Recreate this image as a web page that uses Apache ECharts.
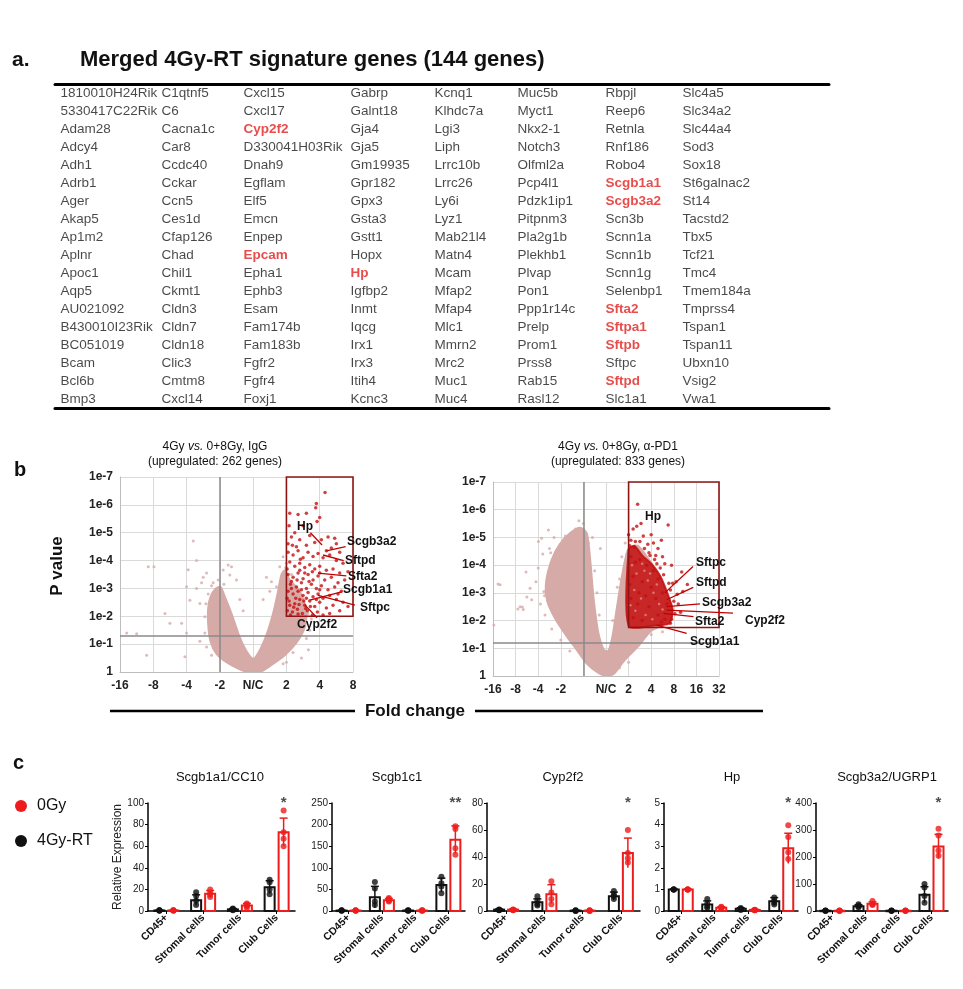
<!DOCTYPE html>
<html><head><meta charset="utf-8">
<script src="https://cdn.jsdelivr.net/npm/echarts@6/dist/echarts.min.js"></script>
<style>html,body{margin:0;padding:0;background:#fff}#c{width:963px;height:989px}</style>
</head><body><div id="c"></div>
<script>
// ================= DATA =================
// (a) gene table, one array per column
const geneCol1 = ['1810010H24Rik','5330417C22Rik','Adam28','Adcy4','Adh1','Adrb1','Ager','Akap5','Ap1m2','Aplnr','Apoc1','Aqp5','AU021092','B430010I23Rik','BC051019','Bcam','Bcl6b','Bmp3'];
const geneCol2 = ['C1qtnf5','C6','Cacna1c','Car8','Ccdc40','Cckar','Ccn5','Ces1d','Cfap126','Chad','Chil1','Ckmt1','Cldn3','Cldn7','Cldn18','Clic3','Cmtm8','Cxcl14'];
const geneCol3 = ['Cxcl15','Cxcl17','Cyp2f2','D330041H03Rik','Dnah9','Egflam','Elf5','Emcn','Enpep','Epcam','Epha1','Ephb3','Esam','Fam174b','Fam183b','Fgfr2','Fgfr4','Foxj1'];
const geneCol4 = ['Gabrp','Galnt18','Gja4','Gja5','Gm19935','Gpr182','Gpx3','Gsta3','Gstt1','Hopx','Hp','Igfbp2','Inmt','Iqcg','Irx1','Irx3','Itih4','Kcnc3'];
const geneCol5 = ['Kcnq1','Klhdc7a','Lgi3','Liph','Lrrc10b','Lrrc26','Ly6i','Lyz1','Mab21l4','Matn4','Mcam','Mfap2','Mfap4','Mlc1','Mmrn2','Mrc2','Muc1','Muc4'];
const geneCol6 = ['Muc5b','Myct1','Nkx2-1','Notch3','Olfml2a','Pcp4l1','Pdzk1ip1','Pitpnm3','Pla2g1b','Plekhb1','Plvap','Pon1','Ppp1r14c','Prelp','Prom1','Prss8','Rab15','Rasl12'];
const geneCol7 = ['Rbpjl','Reep6','Retnla','Rnf186','Robo4','Scgb1a1','Scgb3a2','Scn3b','Scnn1a','Scnn1b','Scnn1g','Selenbp1','Sfta2','Sftpa1','Sftpb','Sftpc','Sftpd','Slc1a1'];
const geneCol8 = ['Slc4a5','Slc34a2','Slc44a4','Sod3','Sox18','St6galnac2','St14','Tacstd2','Tbx5','Tcf21','Tmc4','Tmem184a','Tmprss4','Tspan1','Tspan11','Ubxn10','Vsig2','Vwa1'];
const highlightGenes = ['Cyp2f2','Epcam','Hp','Scgb1a1','Scgb3a2','Sfta2','Sftpa1','Sftpb','Sftpd'];

// (b) volcano plots: x = signed log2 fold change, y = -log10(p)
const volXTicksLeft = ['-16','-8','-4','-2','N/C','2','4','8'];            // x = -4 .. 3
const volXTicksRight = ['-16','-8','-4','-2','','N/C','2','4','8','16','32']; // x = -5 .. 5
const volYTicks = ['1','1e-1','1e-2','1e-3','1e-4','1e-5','1e-6','1e-7'];  // y = 0 .. 7
const volLeftTitle = ['4Gy ', 'vs.', ' 0+8Gy, IgG', '(upregulated: 262 genes)'];
const volRightTitle = ['4Gy ', 'vs.', ' 0+8Gy, \u03b1-PD1', '(upregulated: 833 genes)'];

const leftCloud = [[-0.15,0],[-0.45,0.12],[-0.8,0.35],[-1.1,0.65],[-1.28,1.1],[-1.35,1.7],[-1.35,2.3],[-1.28,2.7],[-1.12,3.0],[-0.98,3.05],[-0.85,2.7],[-0.65,2.1],[-0.45,1.4],[-0.25,0.85],[-0.05,0.5],[0.05,0.5],[0.25,0.9],[0.45,1.5],[0.62,2.2],[0.75,2.9],[0.85,3.5],[0.95,3.65],[1.1,3.3],[1.4,2.9],[1.6,2.2],[1.55,1.6],[1.3,1.05],[0.95,0.6],[0.55,0.25],[0.25,0.03]];
const leftGrey = [[-3.15,3.78],[-2.98,3.78],[-2.65,2.1],[-3.2,0.6],[-3.5,1.37],[-3.8,1.4],[-1.8,4.7],[-1.7,4.0],[-1.95,3.67],[-2.0,3.06],[-1.9,2.58],[-2.15,1.75],[-2.5,1.75],[-2.0,1.4],[-2.05,0.55],[-1.4,3.55],[-1.5,3.4],[-1.55,3.2],[-1.35,2.8],[-0.75,3.84],[-0.65,3.78],[-0.7,3.48],[-0.5,3.3],[-0.9,3.66],[-1.3,2.16],[-1.6,2.46],[-1.45,1.98],[1.66,0.8],[1.31,1.14],[0.9,4.14],[0.8,3.78],[1.0,3.9],[0.55,3.24],[0.4,3.4],[0.7,3.06],[-1.7,3.0],[-1.45,1.4],[-1.6,1.1],[-1.25,0.6],[0.9,0.3],[1.2,0.7],[1.7,1.5],[1.75,1.9],[1.6,1.2],[-0.4,2.6],[-0.3,2.2],[0.3,2.6],[0.5,2.9],[-1.42,2.45],[-1.2,3.2],[1.45,0.5],[1.0,0.35],[-1.05,3.3],[-1.25,3.1],[-0.88,3.15],[0.98,3.75],[1.15,3.5],[-1.4,0.9],[1.45,1.75],[1.65,2.1]];
const leftRed = [[2.16,6.44],[1.9,6.05],[1.88,5.9],[1.6,5.7],[1.35,5.65],[1.1,5.7],[1.08,5.25],[1.5,5.25],[1.92,5.4],[1.25,5.0],[1.7,4.9],[2.05,4.75],[2.25,4.85],[2.45,4.8],[2.5,4.6],[1.4,4.75],[1.05,4.6],[1.85,4.65],[2.35,4.45],[2.6,4.3],[1.15,4.85],[2.0,5.55],
 [1.05,4.3],[1.2,4.2],[1.35,4.35],[1.5,4.1],[1.65,4.3],[1.8,4.15],[1.95,4.25],[2.1,4.1],[2.3,4.2],[2.5,4.0],[2.7,3.9],[1.1,3.95],[1.25,3.8],[1.4,3.9],[1.55,3.75],[1.7,3.85],[1.85,3.7],[2.0,3.8],[2.2,3.65],[2.4,3.7],[2.6,3.55],[2.85,3.6],[1.05,3.5],[1.2,3.4],[1.35,3.55],[1.5,3.35],[1.65,3.5],[1.8,3.3],[1.95,3.45],[2.15,3.3],[2.35,3.4],[2.55,3.2],[2.75,3.3],[1.12,3.15],[1.3,3.05],[1.45,3.2],[1.6,3.0],[1.75,3.15],[1.9,3.0],[2.05,3.1],[2.25,2.95],[2.45,3.05],[2.65,2.9],[1.02,3.7],[1.6,4.55],[1.3,4.5],[2.2,4.35],[2.0,3.55],[1.4,3.65],[1.78,3.6],
 [1.05,2.9],[1.2,2.8],[1.35,2.9],[1.5,2.75],[1.65,2.85],[1.8,2.7],[1.95,2.8],[2.1,2.65],[2.3,2.75],[2.5,2.6],[2.7,2.5],[1.08,2.55],[1.25,2.45],[1.4,2.6],[1.55,2.4],[1.7,2.55],[1.85,2.35],[2.0,2.5],[2.2,2.3],[2.4,2.4],[2.6,2.2],[1.03,2.2],[1.18,2.15],[1.33,2.25],[1.48,2.1],[1.63,2.2],[1.78,2.05],[1.93,2.15],[2.1,2.05],[2.3,2.1],[1.1,2.4],[1.45,2.95],[1.9,2.6],[2.85,2.35],[1.6,2.65],[1.28,2.65],[1.15,3.25],[2.55,2.8],[2.0,2.95],
 [1.12,2.05],[1.22,2.32],[1.38,2.42],[1.52,2.55],[1.02,2.65],[1.15,3.0],[1.32,3.3],[1.55,3.55],[1.68,3.25],[1.42,4.05],[1.18,4.55],[1.72,2.35],[1.35,2.08],[1.58,2.28]];
const leftBox = [1, 2, 3, 7];       // x1, y1, x2, y2
const leftRefX = -1, leftRefY = 1.3;
const leftGeneLabels = [
  {gene:'Hp', at:[1.56,5.2], align:'center', from:[1.72,5.0], to:[2.07,4.56]},
  {gene:'Scgb3a2', at:[2.82,4.67], align:'left', from:[2.78,4.5], to:[2.2,4.35]},
  {gene:'Sftpd', at:[2.76,3.98], align:'left', from:[2.72,4.0], to:[2.1,4.2]},
  {gene:'Sfta2', at:[2.85,3.41], align:'left', from:[2.8,3.45], to:[1.95,3.55]},
  {gene:'Scgb1a1', at:[2.7,2.94], align:'left', from:[2.66,2.88], to:[1.7,2.58]},
  {gene:'Sftpc', at:[3.21,2.3], align:'left', from:[3.06,2.4], to:[1.95,2.75]},
  {gene:'Cyp2f2', at:[1.92,1.69], align:'center', from:[1.92,1.95], to:[1.56,2.4]}
];

const rightCloud = [[0.0,0],[-0.4,0.15],[-0.85,0.45],[-1.3,0.95],[-1.75,1.45],[-2.2,2.0],[-2.6,2.7],[-2.65,3.4],[-2.4,4.2],[-2.05,4.75],[-1.6,5.15],[-1.15,5.35],[-0.85,5.15],[-0.7,4.2],[-0.55,2.8],[-0.35,1.6],[-0.1,0.95],[0.1,0.9],[0.28,1.4],[0.47,2.4],[0.75,3.8],[1.0,4.6],[1.4,4.7],[1.9,4.2],[2.4,3.6],[2.8,2.8],[2.9,2.1],[2.4,1.8],[1.95,1.6],[1.4,1.05],[0.8,0.55],[0.35,0.08]];
const rightGrey = [[-4.78,3.32],[-3.54,3.75],[-3.9,2.42],[-3.7,2.49],[-3.5,2.85],[-4.96,1.84],[-4.69,3.29],[-3.8,2.5],[-3.36,3.17],[-3.29,2.75],[-3.66,2.4],[-2.99,4.85],[-2.85,4.97],[-2.55,5.27],[-1.89,4.31],[-1.37,4.91],[-1.2,5.6],[-1.0,5.5],[-2.3,5.0],[-2.8,4.4],[-3.0,3.9],[-3.1,3.4],[-2.9,2.6],[-2.7,2.2],[-2.4,1.7],[-2.0,1.3],[-1.6,0.9],[-0.5,3.8],[-0.4,3.0],[-0.3,2.2],[0.3,2.0],[0.5,3.2],[0.7,4.3],[0.85,4.8],[1.6,1.3],[2.0,1.5],[2.5,1.6],[1.0,0.5],[0.6,0.3],[-0.25,4.6],[-0.6,5.0],[-2.75,3.05],[-2.5,4.6],[-1.8,5.05],[-2.72,2.9],[-2.45,4.45],[-1.35,5.3],[-0.78,4.8],[0.6,3.5],[0.92,4.4]];
const rightRedCore = [[1.0,1.82],[1.0,4.55],[1.25,4.7],[1.6,4.35],[2.0,4.05],[2.4,3.6],[2.7,3.0],[2.95,2.4],[2.8,1.9],[2.2,1.82]];
const rightRed = [[1.4,6.2],[1.2,5.3],[1.36,5.4],[1.65,5.05],[2.0,5.1],[2.1,4.8],[2.75,5.45],[1.1,4.9],[1.5,4.85],[1.85,4.75],[2.3,4.6],[1.25,4.65],[2.5,4.3],[2.9,4.0],[3.35,3.75],[3.1,3.4],[3.4,3.05],[3.0,2.7],[3.15,2.95],[2.85,1.9],[3.3,2.3],[2.6,4.05],[1.7,4.6],[2.2,4.35],[1.0,5.1],[1.55,5.5],[2.45,4.9],[3.6,3.3],[2.95,3.35],[3.2,2.6],
 [1.1,4.3],[1.3,4.1],[1.5,4.2],[1.8,4.0],[2.1,3.8],[2.3,3.5],[1.2,3.6],[1.6,3.4],[2.0,3.2],[2.5,3.0],[2.7,2.6],[1.1,2.8],[1.4,2.6],[1.9,2.5],[2.3,2.2],[1.2,2.1],[1.6,2.0],[2.6,2.05],[1.05,3.3],[1.75,2.9],[2.2,2.8],[1.45,3.0],[2.4,3.9],[1.9,4.45],[2.15,4.2],
 [2.78,3.35],[2.55,3.65],[2.25,4.05],[1.95,4.35],[2.9,2.05],[3.05,2.25],[2.45,1.95],[1.3,4.85],[1.05,4.7],[2.85,3.1]];
const rightSpeckle = [[1.15,4.0],[1.35,3.7],[1.7,3.8],[1.25,3.1],[1.55,2.8],[1.85,3.45],[2.1,3.0],[2.35,2.6],[1.3,2.35],[1.75,2.2],[2.05,2.05],[1.08,2.55],[1.95,3.7],[2.5,2.4],[1.6,4.05],[2.25,3.3]];
const rightBox = [1, 1.75, 5, 7];
const rightRefX = -1, rightRefY = 1.2;
const rightGeneLabels = [
  {gene:'Hp', at:[2.08,5.74], align:'center'},
  {gene:'Sftpc', at:[3.98,4.08], align:'left', from:[3.85,3.95], to:[2.6,3.0]},
  {gene:'Sftpd', at:[3.98,3.36], align:'left', from:[3.86,3.2], to:[2.68,2.75]},
  {gene:'Scgb3a2', at:[4.25,2.63], align:'left', from:[4.16,2.6], to:[2.68,2.5]},
  {gene:'Cyp2f2', at:[6.15,2.0], align:'left', from:[5.62,2.27], to:[2.68,2.38]},
  {gene:'Sfta2', at:[3.94,1.96], align:'left', from:[3.87,2.14], to:[2.54,2.26]},
  {gene:'Scgb1a1', at:[3.72,1.24], align:'left', from:[3.57,1.54], to:[2.24,1.84]}
];

// (c) qPCR bar charts
const cellTypes = ['CD45+','Stromal cells','Tumor cells','Club Cells'];
const barTitles = ['Scgb1a1/CC10','Scgb1c1','Cyp2f2','Hp','Scgb3a2/UGRP1'];
const barYMax = [100, 250, 80, 5, 400];
const barYStep = [20, 50, 20, 1, 100];
const mean4Gy = [[0.5,10,1.5,22],[1,32,1,60],[1,6.5,0.3,11],[1,0.3,0.1,0.45],[1,18,1,60]];
const sd4Gy   = [[0.3,5,0.8,6],[0.5,25,0.5,16],[0.5,2.5,0.2,3],[0.02,0.17,0.05,0.17],[0.5,5,0.5,30]];
const mean0Gy = [[0.5,16,5,73],[1,25,1,165],[1,12.5,0.3,43],[1,0.15,0.05,2.9],[1,27,1,239]];
const sd0Gy   = [[0.3,3,2,13],[0.5,4,0.5,32],[0.5,7,0.2,11],[0.02,0.05,0.03,0.7],[0.5,7,0.5,45]];
const dots4Gy = [
  [[0.3,0.5,0.6,0.8],[5.5,9.5,14,17.4],[0.8,1.2,1.8,2.2],[15.6,20,26.6,29]],
  [[0.5,1,1.2,1.5],[14,22,52,67],[0.5,1,1.2,1.5],[41,57,64,79]],
  [[0.5,0.8,1,1.2],[4,5,7.6,11],[0,0.2,0.3,0.5],[8.8,11,12.5,14.9]],
  [[1,1,1,1],[0.15,0.2,0.35,0.55],[0.05,0.08,0.1,0.14],[0.3,0.38,0.5,0.62]],
  [[0.5,1,1,1.5],[14,17,20,25],[0.5,1,1,1.5],[31,56,87,100]]
];
const dots0Gy = [
  [[0.3,0.5,0.6,0.7],[13,15,17,20],[3,4.5,6,7],[60,67,73,93]],
  [[0.5,1,1.2,1.5],[22,24,28,30],[0.5,1,1.2,1.5],[130,145,190,196]],
  [[0.5,0.8,1,1.2],[5,8.8,13.7,22],[0,0.2,0.3,0.5],[36,39,43,60]],
  [[1,1,1,1],[0.1,0.12,0.17,0.2],[0.03,0.04,0.05,0.06],[2.41,2.72,3.43,3.97]],
  [[0.5,1,1,1.5],[22,25,27,37],[0.5,1,1,1.5],[205,224,280,305]]
];
const significance = ['*','**','*','*','*'];
const seriesNames = ['0Gy','4Gy-RT'];

// ================= LAYOUT / STYLE =================
const FONT = 'Liberation Sans, Arial, sans-serif';
const RED = '#ee1d1d', BLACK = '#111111', TRED = '#e0201f';
const PINK = '#d6aaa7', VRED = '#c41010', BOX = '#8e1414';
const TABLE = {left:55, top:84, width:774, height:324};
const tableColLeft = [60,161,243,350,434,517,605,682];
const barGridLeft = [148,332,487,664,816];
const barGridWidth = [147,133,153,134,132];
const barTitleX = [220,397,563,732,887];

const chart = echarts.init(document.getElementById('c'), null, {width:963, height:989});

const grids = [], xAxes = [], yAxes = [], series = [];

// ---- table ----
grids.push({left:TABLE.left, top:TABLE.top, width:TABLE.width, height:TABLE.height});
['top','bottom'].forEach(pos => xAxes.push({gridIndex:0, type:'value', min:0, max:8, position:pos,
  axisLine:{show:true, onZero:false, lineStyle:{color:'#000', width:3}}, axisTick:{show:false},
  axisLabel:{show:false}, splitLine:{show:false}}));
yAxes.push({gridIndex:0, type:'category', inverse:true, show:false, data:geneCol1.map((g,i)=>i)});
const geneCols = [geneCol1,geneCol2,geneCol3,geneCol4,geneCol5,geneCol6,geneCol7,geneCol8];
const tableData = [];
geneCols.forEach((col,c) => col.forEach((g,r) => {
  const hi = highlightGenes.includes(g);
  tableData.push({value:[c, r], name:g, label:{
    offset:[tableColLeft[c] - (TABLE.left + c*TABLE.width/8), 0],
    color: hi ? TRED : '#1a1a1a', fontWeight: hi ? 'bold' : 'normal'}});
}));
series.push({type:'scatter', xAxisIndex:0, yAxisIndex:0, symbolSize:1, itemStyle:{color:'rgba(0,0,0,0)'},
  silent:true, data:tableData,
  label:{show:true, position:'right', distance:0, formatter:p=>p.name, fontSize:13.5, fontFamily:FONT}});

// ---- volcano plots ----
function volcano(gi, xi, yi, cfg){
  grids.push(cfg.grid);
  xAxes.push({gridIndex:gi, type:'value', min:cfg.xmin, max:cfg.xmax, interval:1,
    axisLine:{show:true, onZero:false, lineStyle:{color:'#bdbdbd'}}, axisTick:{show:false},
    axisLabel:{formatter:v=>cfg.xTicks[Math.round(v - cfg.xmin)], fontWeight:'bold', fontSize:12, color:'#222', fontFamily:FONT, margin:8},
    splitLine:{show:true, lineStyle:{color:'#dadada'}}});
  yAxes.push({gridIndex:gi, type:'value', min:0, max:7, interval:1,
    axisLine:{show:true, onZero:false, lineStyle:{color:'#bdbdbd'}}, axisTick:{show:false},
    axisLabel:{formatter:v=>volYTicks[Math.round(v)], fontWeight:'bold', fontSize:12, color:'#222', fontFamily:FONT, margin:7},
    splitLine:{show:true, lineStyle:{color:'#dadada'}}});
  const polyRender = (pts, fill, op) => (params, api) => ({type:'polygon',
    shape:{points:pts.map(p=>api.coord(p)), smooth:0.25}, style:{fill:fill, opacity:op, stroke:fill, lineWidth:2}});
  series.push({type:'custom', xAxisIndex:xi, yAxisIndex:yi, data:[[0,0]], silent:true, clip:true, z:2,
    renderItem:polyRender(cfg.cloud, PINK, 1)});
  series.push({type:'scatter', xAxisIndex:xi, yAxisIndex:yi, data:cfg.grey, symbolSize:3, silent:true, z:3,
    itemStyle:{color:PINK},
    markLine:{silent:true, symbol:['none','none'], label:{show:false}, animation:false,
      lineStyle:{color:'#8a8a8a', width:1.5, type:'solid'}, data:[{xAxis:cfg.refX},{yAxis:cfg.refY}]}});
  if (cfg.redCore) series.push({type:'custom', xAxisIndex:xi, yAxisIndex:yi, data:[[0,0]], silent:true, z:4,
    renderItem:polyRender(cfg.redCore, VRED, 0.85)});
  if (cfg.speckle) series.push({type:'scatter', xAxisIndex:xi, yAxisIndex:yi, data:cfg.speckle, symbolSize:2.5, silent:true, z:4.5,
    itemStyle:{color:'#e58a86'}});
  series.push({type:'scatter', xAxisIndex:xi, yAxisIndex:yi, data:cfg.red, symbolSize:3.5, silent:true, z:5,
    itemStyle:{color:VRED}});
  series.push({type:'custom', xAxisIndex:xi, yAxisIndex:yi, data:[[0,0]], silent:true, z:6,
    renderItem:(params, api) => {
      const a = api.coord([cfg.box[0], cfg.box[3]]), b = api.coord([cfg.box[2], cfg.box[1]]);
      return {type:'rect', shape:{x:a[0], y:a[1], width:b[0]-a[0], height:b[1]-a[1]},
        style:{fill:'none', stroke:BOX, lineWidth:1.6}};
    }});
  series.push({type:'custom', xAxisIndex:xi, yAxisIndex:yi, silent:true, z:7, clip:false,
    data:cfg.labels.map(d=>d.at),
    renderItem:(params, api) => {
      const d = cfg.labels[params.dataIndex];
      const a = api.coord(d.at);
      const ch = [];
      if (d.from) {
        const f = api.coord(d.from), t = api.coord(d.to);
        ch.push({type:'line', shape:{x1:f[0], y1:f[1], x2:t[0], y2:t[1]}, style:{stroke:'#c00000', lineWidth:1.3}});
      }
      ch.push({type:'text', x:a[0], y:a[1], style:{text:d.gene, fill:'#111', font:'bold 12px '+FONT,
        align:d.align, verticalAlign:'middle'}});
      return {type:'group', children:ch};
    }});
}
volcano(1, 2, 1, {grid:{left:120, top:477, width:233, height:195}, xmin:-4, xmax:3, xTicks:volXTicksLeft,
  cloud:leftCloud, grey:leftGrey, red:leftRed, box:leftBox, refX:leftRefX, refY:leftRefY, labels:leftGeneLabels});
volcano(2, 3, 2, {grid:{left:493, top:482, width:226, height:194}, xmin:-5, xmax:5, xTicks:volXTicksRight,
  cloud:rightCloud, grey:rightGrey, red:rightRed, redCore:rightRedCore, speckle:rightSpeckle, box:rightBox, refX:rightRefX, refY:rightRefY, labels:rightGeneLabels});

// ---- bar charts ----
function barRender(color, dx){
  return (params, api) => {
    const cat = api.value(0), m = api.value(1), sd = api.value(2);
    const base = api.coord([cat, 0]), top = api.coord([cat, m]);
    const hi = api.coord([cat, m + sd]), lo = api.coord([cat, Math.max(0, m - sd)]);
    const x = base[0] + dx, bw = 10, cap = 4;
    return {type:'group', children:[
      {type:'rect', shape:{x:x-bw/2, y:top[1], width:bw, height:Math.max(base[1]-top[1], 0.5)},
        style:{fill:'#fff', stroke:color, lineWidth:2}},
      {type:'line', shape:{x1:x, y1:lo[1], x2:x, y2:hi[1]}, style:{stroke:color, lineWidth:1.5}},
      {type:'line', shape:{x1:x-cap, y1:hi[1], x2:x+cap, y2:hi[1]}, style:{stroke:color, lineWidth:1.5}}
    ]};
  };
}
barTitles.forEach((t, k) => {
  const gi = 3 + k, xi = 4 + k, yi = 3 + k;
  grids.push({left:barGridLeft[k], top:803, width:barGridWidth[k], height:108});
  xAxes.push({gridIndex:gi, type:'category', data:cellTypes,
    axisLine:{show:true, lineStyle:{color:'#000', width:1.5}},
    axisTick:{show:true, alignWithLabel:true, length:3, lineStyle:{color:'#000'}},
    axisLabel:{interval:0, rotate:45, fontSize:10.5, fontWeight:'bold', color:'#111', fontFamily:FONT, margin:5}});
  yAxes.push({gridIndex:gi, type:'value', min:0, max:barYMax[k], interval:barYStep[k],
    axisLine:{show:true, lineStyle:{color:'#000', width:1.5}},
    axisTick:{show:true, length:3, lineStyle:{color:'#000'}},
    axisLabel:{fontSize:10, color:'#222', fontFamily:FONT, margin:4},
    splitLine:{show:false},
    name: k === 0 ? 'Relative Expression' : '', nameLocation:'middle', nameGap:24,
    nameTextStyle:{fontSize:12, color:'#222', fontFamily:FONT}});
  const groups = [
    {name:seriesNames[1], color:BLACK, dx:-7, mean:mean4Gy[k], sd:sd4Gy[k], dots:dots4Gy[k]},
    {name:seriesNames[0], color:RED, dx:7, mean:mean0Gy[k], sd:sd0Gy[k], dots:dots0Gy[k]}
  ];
  groups.forEach(g => {
    series.push({type:'custom', name:g.name, xAxisIndex:xi, yAxisIndex:yi, z:2, silent:true,
      itemStyle:{color:g.color}, encode:{x:0, y:1},
      data:cellTypes.map((c,i)=>[i, g.mean[i], g.sd[i]]), renderItem:barRender(g.color, g.dx)});
    const pts = [];
    g.dots.forEach((arr,i) => arr.forEach(v => pts.push([i, v])));
    series.push({type:'scatter', name:g.name, xAxisIndex:xi, yAxisIndex:yi, z:3, silent:true,
      symbolSize:6, symbolOffset:[g.dx, 0], itemStyle:{color:g.color}, data:pts});
  });
  series.push({type:'scatter', xAxisIndex:xi, yAxisIndex:yi, z:4, silent:true, symbolSize:1,
    itemStyle:{color:'rgba(0,0,0,0)'}, data:[[3, barYMax[k]]],
    label:{show:true, formatter:significance[k], position:'inside', offset:[7, 0],
      fontSize:15, fontWeight:'bold', color:'#222', fontFamily:FONT}});
});

// ---- free text / decorations ----
const T = (text, x, y, size, opts={}) => Object.assign({type:'text', x, y, silent:true,
  style:Object.assign({text, font:(opts.weight||'normal')+' '+size+'px '+FONT, fill:opts.fill||'#111',
    align:opts.align||'left', verticalAlign:'middle'}, opts.style||{})}, opts.el||{});
const titleRich = (arr) => ({text:'{a|'+arr[0]+'}{i|'+arr[1]+'}{a|'+arr[2]+'}',
  rich:{a:{font:'12px '+FONT, fill:'#111'}, i:{font:'italic 12px '+FONT, fill:'#111'}}});
const graphics = [
  T('a.', 12, 60, 21, {weight:'bold'}),
  T('Merged 4Gy-RT signature genes (144 genes)', 80, 60, 22, {weight:'bold'}),
  T('b', 14, 470, 20, {weight:'bold'}),
  {type:'text', x:215, y:447, silent:true, style:Object.assign(titleRich(volLeftTitle), {align:'center', verticalAlign:'middle'})},
  T(volLeftTitle[3], 215, 462, 12, {align:'center'}),
  {type:'text', x:618, y:447, silent:true, style:Object.assign(titleRich(volRightTitle), {align:'center', verticalAlign:'middle'})},
  T(volRightTitle[3], 618, 462, 12, {align:'center'}),
  T('P value', 57, 566, 17, {weight:'bold', align:'center', el:{rotation:Math.PI/2}}),
  T('Fold change', 415, 711, 17, {weight:'bold', align:'center'}),
  {type:'line', silent:true, shape:{x1:110, y1:711, x2:355, y2:711}, style:{stroke:'#000', lineWidth:2.5}},
  {type:'line', silent:true, shape:{x1:475, y1:711, x2:763, y2:711}, style:{stroke:'#000', lineWidth:2.5}},
  T('c', 13, 763, 20, {weight:'bold'})
];
barTitles.forEach((t,k) => graphics.push(T(t, barTitleX[k], 777, 13, {align:'center'})));

chart.setOption({
  animation:false,
  backgroundColor:'#fff',
  textStyle:{fontFamily:FONT},
  grid:grids, xAxis:xAxes, yAxis:yAxes, series:series,
  legend:{orient:'vertical', left:10, top:793, itemWidth:14, itemHeight:12, itemGap:19, icon:'circle',
    data:seriesNames, selectedMode:false,
    textStyle:{fontSize:16, color:'#111', fontFamily:FONT, padding:[0,0,0,4]}},
  graphic:graphics
});
</script></body></html>
